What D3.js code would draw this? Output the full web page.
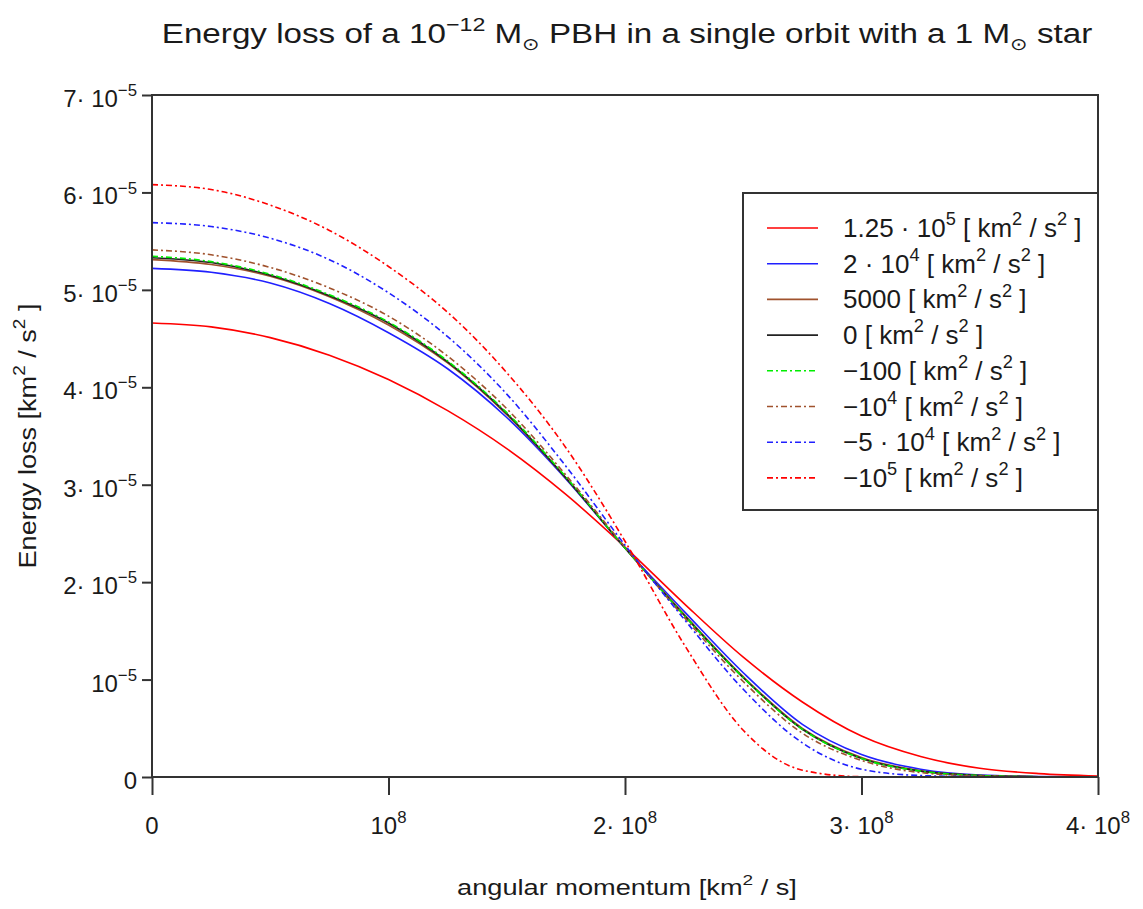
<!DOCTYPE html>
<html>
<head>
<meta charset="utf-8">
<script src="https://cdn.jsdelivr.net/npm/d3@7"></script>
<style>
  body { margin: 0; background: #fff; }
  text { font-family: "Liberation Sans", Arial, Helvetica, sans-serif; fill: #1a1a1a; }
</style>
</head>
<body>
<svg id="chart" width="1143" height="909"></svg>
<script>
// angular momentum grid [km^2/s]
const momentum = [0, 0.25e8, 0.5e8, 0.75e8, 1e8, 1.25e8, 1.5e8, 1.75e8, 2e8,
                  2.25e8, 2.5e8, 2.75e8, 3e8, 3.25e8, 3.5e8, 3.75e8, 4e8];

// energy loss, in units of 1e-5 km^2/s^2, one array per orbital energy
const loss125k = [4.66, 4.62, 4.51, 4.33, 4.08, 3.76, 3.37, 2.90, 2.36, 1.78, 1.23, 0.77, 0.42, 0.21, 0.09, 0.035, 0.01];
const loss20k  = [5.22, 5.18, 5.07, 4.86, 4.56, 4.19, 3.69, 3.06, 2.35, 1.70, 1.07, 0.54, 0.23, 0.08, 0.02, 0.005, 0];
const loss5000 = [5.31, 5.26, 5.14, 4.93, 4.64, 4.25, 3.72, 3.07, 2.35, 1.67, 1.03, 0.50, 0.20, 0.065, 0.016, 0.003, 0];
const loss0    = [5.33, 5.28, 5.15, 4.94, 4.66, 4.26, 3.73, 3.07, 2.35, 1.66, 1.02, 0.49, 0.19, 0.06, 0.015, 0.003, 0];
const lossM100 = [5.345, 5.29, 5.16, 4.95, 4.67, 4.27, 3.74, 3.08, 2.35, 1.66, 1.02, 0.49, 0.19, 0.06, 0.015, 0.003, 0];
const lossM1e4 = [5.41, 5.36, 5.23, 5.02, 4.73, 4.32, 3.78, 3.10, 2.36, 1.64, 0.98, 0.45, 0.17, 0.045, 0.01, 0.002, 0];
const lossM5e4 = [5.69, 5.65, 5.53, 5.31, 4.97, 4.52, 3.93, 3.19, 2.38, 1.62, 0.90, 0.35, 0.08, 0.015, 0.003, 0, 0];
const lossM1e5 = [6.08, 6.03, 5.87, 5.61, 5.24, 4.77, 4.15, 3.38, 2.42, 1.36, 0.48, 0.07, 0.003, 0, 0, 0, 0];

const seriesValues = [loss125k, loss20k, loss5000, loss0, lossM100, lossM1e4, lossM5e4, lossM1e5];
const seriesLabels = [
  "1.25 · 10^{5} [ km^{2} / s^{2} ]",
  "2 · 10^{4} [ km^{2} / s^{2} ]",
  "5000 [ km^{2} / s^{2} ]",
  "0 [ km^{2} / s^{2} ]",
  "−100 [ km^{2} / s^{2} ]",
  "−10^{4} [ km^{2} / s^{2} ]",
  "−5 · 10^{4} [ km^{2} / s^{2} ]",
  "−10^{5} [ km^{2} / s^{2} ]"
];
const seriesColors = ["#ff0000", "#2020ff", "#a0522d", "#222222", "#00ee00", "#a0522d", "#2020ff", "#ff0000"];
const seriesDashed = [false, false, false, false, true, true, true, true];

const xTicks = [0, 1e8, 2e8, 3e8, 4e8];
const xTickLabels = ["0", "10^{8}", "2· 10^{8}", "3· 10^{8}", "4· 10^{8}"];
const yTicks = [0, 1, 2, 3, 4, 5, 6, 7];
const yTickLabels = ["0", "10^{−5}", "2· 10^{−5}", "3· 10^{−5}", "4· 10^{−5}", "5· 10^{−5}", "6· 10^{−5}", "7· 10^{−5}"];

const svg = d3.select("#chart");
const x = d3.scaleLinear().domain([0, 4e8]).range([152, 1098]);
const y = d3.scaleLinear().domain([0, 7]).range([777, 95]);

// write "a^{b}" / "a_{b}" strings as tspans
function richText(sel, str, size) {
  const parts = str.split(/(\^|_)\{([^}]*)\}/);
  let shift = 0;
  for (let i = 0; i < parts.length; i += 3) {
    if (parts[i]) {
      sel.append("tspan").attr("dy", -shift).text(parts[i]);
      shift = 0;
    }
    if (i + 2 < parts.length) {
      const sup = parts[i + 1] === "^";
      const d = sup ? -size * 0.45 : size * 0.25;
      sel.append("tspan")
        .attr("font-size", size * (sup ? 0.7 : 0.62))
        .attr("dy", d - shift)
        .text(parts[i + 2]);
      shift = d;
    }
  }
  return sel;
}

// squeeze a text horizontally to a target width
function fitText(sel, target, base) {
  const w = sel.node().getBBox().width;
  sel.attr("transform", base + ` scale(${target / w},1)`);
}

// curves
const line = d3.line()
  .x((d, i) => x(momentum[i]))
  .y(d => y(d))
  .curve(d3.curveMonotoneX);

seriesValues.forEach((vals, k) => {
  svg.append("path")
    .attr("d", line(vals))
    .attr("fill", "none")
    .attr("stroke", seriesColors[k])
    .attr("stroke-width", 1.6)
    .attr("stroke-dasharray", seriesDashed[k] ? "6,3,2,3" : null);
});

// axes (ticks only), frame drawn separately
svg.append("g")
  .attr("transform", "translate(152,0)")
  .call(d3.axisLeft(y).tickValues(yTicks).tickSize(10).tickFormat(""))
  .call(g => g.select(".domain").remove())
  .selectAll("line").attr("stroke", "#333").attr("stroke-width", 2);

svg.append("g")
  .attr("transform", "translate(0,777)")
  .call(d3.axisBottom(x).tickValues(xTicks).tickSize(18).tickFormat(""))
  .call(g => g.select(".domain").remove())
  .selectAll("line").attr("stroke", "#333").attr("stroke-width", 2);

svg.append("rect")
  .attr("x", 152).attr("y", 95).attr("width", 946).attr("height", 682)
  .attr("fill", "none").attr("stroke", "#333").attr("stroke-width", 2);

yTicks.forEach((t, i) => {
  richText(svg.append("text")
    .attr("x", 137).attr("y", y(t) + 12)
    .attr("text-anchor", "end").attr("font-size", 24), yTickLabels[i], 24);
});

xTicks.forEach((t, i) => {
  richText(svg.append("text")
    .attr("x", x(t)).attr("y", 834)
    .attr("text-anchor", "middle").attr("font-size", 24), xTickLabels[i], 24);
});

// title and axis titles
const title = richText(svg.append("text")
  .attr("text-anchor", "middle").attr("font-size", 27),
  "Energy loss of a 10^{−12} M_{⊙} PBH in a single orbit with a 1 M_{⊙} star", 27);
fitText(title, 930, "translate(627,43)");

const xTitle = richText(svg.append("text")
  .attr("text-anchor", "middle").attr("font-size", 22),
  "angular momentum [km^{2} / s]", 22);
fitText(xTitle, 340, "translate(627,895)");

const yTitle = richText(svg.append("text")
  .attr("text-anchor", "middle").attr("font-size", 24),
  "Energy loss [km^{2} / s^{2} ]", 24);
fitText(yTitle, 265, "translate(36,436) rotate(-90)");

// legend
const legend = svg.append("g");
legend.append("rect")
  .attr("x", 743).attr("y", 193).attr("width", 355).attr("height", 317)
  .attr("fill", "#fff").attr("stroke", "#333").attr("stroke-width", 2);

seriesLabels.forEach((lab, k) => {
  const ly = 228 + k * 35.7;
  legend.append("line")
    .attr("x1", 767).attr("x2", 818).attr("y1", ly).attr("y2", ly)
    .attr("stroke", seriesColors[k]).attr("stroke-width", 1.6)
    .attr("stroke-dasharray", seriesDashed[k] ? "6,3,2,3" : null);
  richText(legend.append("text")
    .attr("x", 843).attr("y", ly + 9).attr("font-size", 26), lab, 26);
});
</script>
</body>
</html>
